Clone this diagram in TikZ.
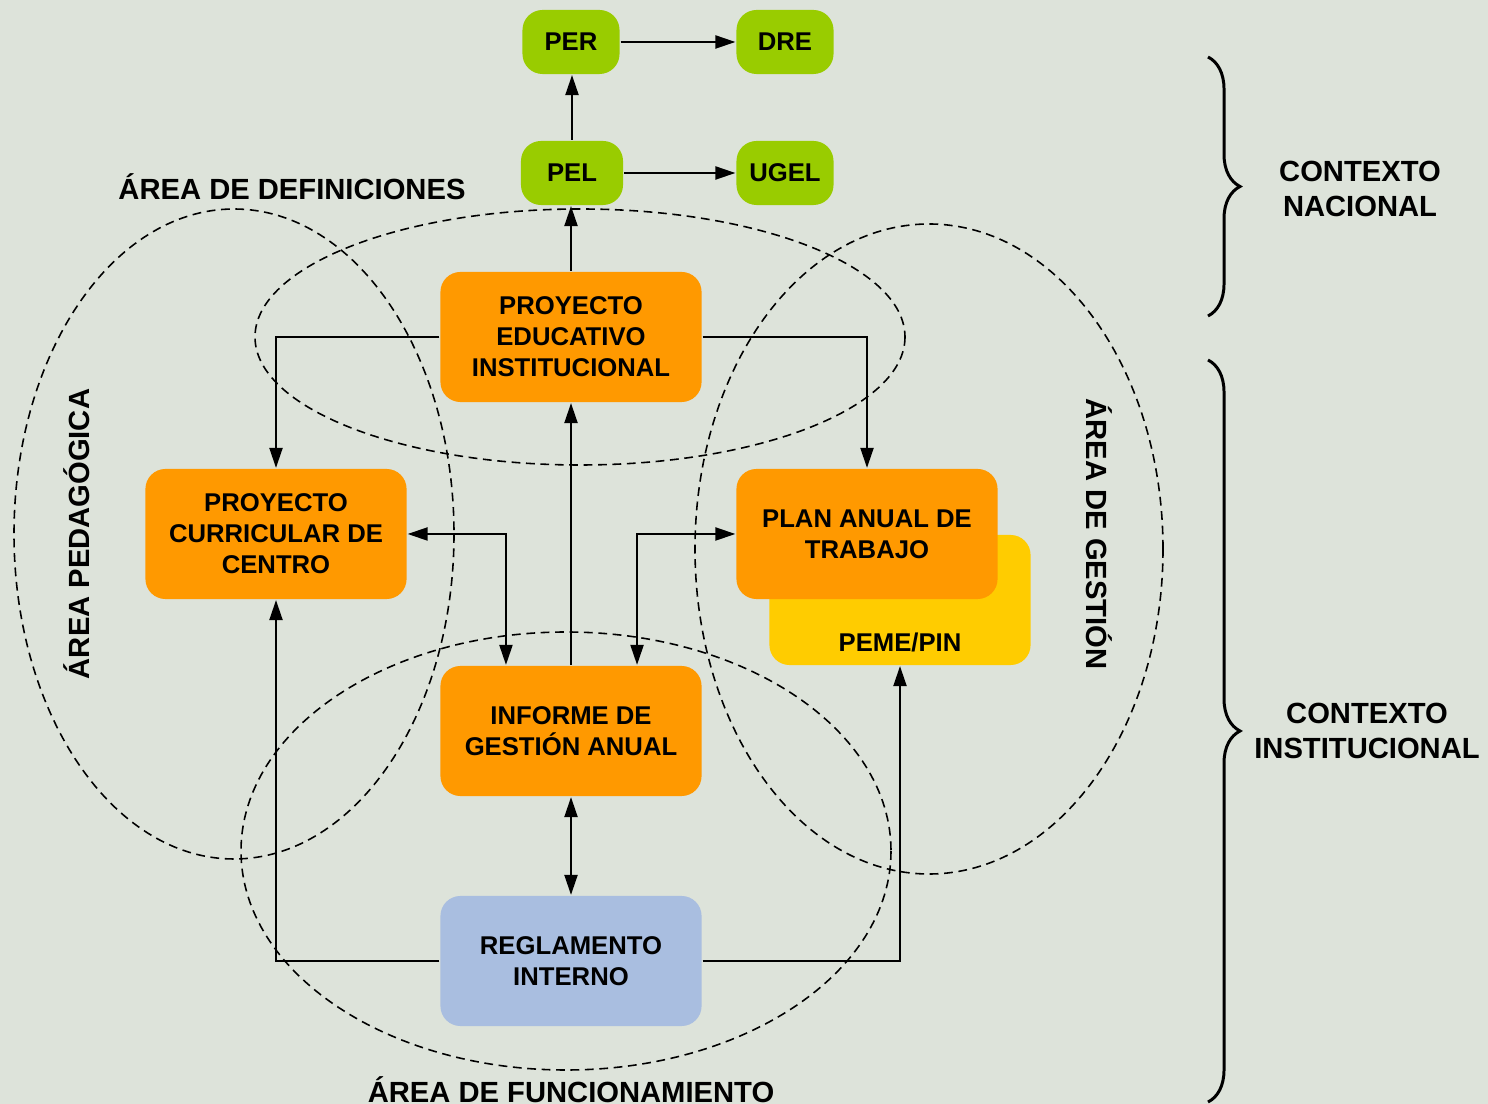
\documentclass[tikz,border=0pt]{standalone}
\usepackage{fontspec}
\setmainfont{Liberation Sans}
\usepackage{xcolor}
\usepackage{tikz}
\usetikzlibrary{arrows.meta,decorations.pathreplacing}

\definecolor{fondo}{RGB}{221,227,218}
\definecolor{verde}{RGB}{153,204,0}
\definecolor{naranja}{RGB}{255,153,0}
\definecolor{amarillo}{RGB}{255,204,0}
\definecolor{celeste}{RGB}{169,190,224}

\tikzset{
	caja/.style={rounded corners=0.2cm, align=center, inner sep=0pt,
		font=\fontsize{7.3}{8.8}\selectfont\bfseries,
		minimum width=2.61cm, minimum height=1.30cm},
	cajachica/.style={caja, fill=verde, minimum width=0.97cm, minimum height=0.64cm},
	area/.style={dash pattern=on 2.5pt off 1.6pt, line width=0.45pt},
	rotulo/.style={font=\fontsize{8.3}{9.7}\selectfont\bfseries, align=center},
	llave/.style={decorate, decoration={brace, amplitude=0.32cm}, line width=0.85pt}
}

\begin{document}
\begin{tikzpicture}[x=0.01cm, y=-0.01cm, line width=0.6pt,
	>={Triangle[length=2mm,width=1.3mm]}]
	% Background
	\fill[fondo] (0,0) rectangle (1488,1104);
	\useasboundingbox (0,0) rectangle (1488,1104);
	
	% Areas
	\draw[area] (580,337) ellipse [x radius=325, y radius=128];
	\draw[area] (234,534) ellipse [x radius=220, y radius=325];
	\draw[area] (929,549) ellipse [x radius=234, y radius=325];
	\draw[area] (566,851) ellipse [x radius=325, y radius=219];
	
	% Boxes
	\node[cajachica] (per) at (571,42) {PER};
	\node[cajachica] (dre) at (785,42) {DRE};
	\node[cajachica, minimum width=1.02cm] (pel) at (572,173) {PEL};
	\node[cajachica] (ugel) at (785,173) {UGEL};
	\node[caja, fill=naranja] (pei) at (571,337) {PROYECTO\\EDUCATIVO\\INSTITUCIONAL};
	\node[caja, fill=naranja] (pcc) at (276,534) {PROYECTO\\CURRICULAR DE\\CENTRO};
	\node[caja, fill=amarillo] (peme) at (900,600) {};
	\node[caja, fill=naranja] (pat) at (867,534) {PLAN ANUAL DE\\TRABAJO};
	\node[rotulo, font=\fontsize{7.3}{8.8}\selectfont\bfseries] (pemetxt) at (900,642) {PEME/PIN};
	\node[caja, fill=naranja] (iga) at (571,731) {INFORME DE\\GESTIÓN ANUAL};
	\node[caja, fill=celeste] (ri) at (571,961) {REGLAMENTO\\INTERNO};
	
	% Connectors
	\draw[->] (pel.north) -- (pel.north |- per.south);
	\draw[->] (per) -- (dre);
	\draw[->] (pel) -- (ugel);
	\draw[->] (pei.north) -- (pei.north |- pel.south);
	\draw[->] (pei.west) -| (pcc.north);
	\draw[->] (pei.east) -| (pat.north);
	\draw[->] (iga) -- (pei);
	\draw[<->] (pcc.east) -| ([xshift=-0.65cm]iga.north);
	\draw[<->] (pat.west) -| ([xshift=0.66cm]iga.north);
	\draw[<->] (iga) -- (ri);
	\draw[->] (ri.west) -| (pcc.south);
	\draw[->] (ri.east) -| (peme.south);
	
	% Area labels
	\node[rotulo] (adef) at (292,187) {ÁREA DE DEFINICIONES};
	\node[rotulo, rotate=90] (aped) at (77,534) {ÁREA PEDAGÓGICA};
	\node[rotulo, rotate=-90] (ages) at (1099,534) {ÁREA DE GESTIÓN};
	\node[rotulo] (afun) at (571,1090) {ÁREA DE FUNCIONAMIENTO};
	
	% Context braces
	\coordinate (nac1) at (1208,57);
	\coordinate (nac2) at (1208,316);
	\coordinate (ins1) at (1208,360);
	\coordinate (ins2) at (1208,1102);
	\draw[llave] (nac1) -- (nac2);
	\draw[llave] (ins1) -- (ins2);
	\node[rotulo] (cnac) at (1360,189) {CONTEXTO\\NACIONAL};
	\node[rotulo] (cins) at (1367,731) {CONTEXTO\\INSTITUCIONAL};
\end{tikzpicture}
\end{document}
